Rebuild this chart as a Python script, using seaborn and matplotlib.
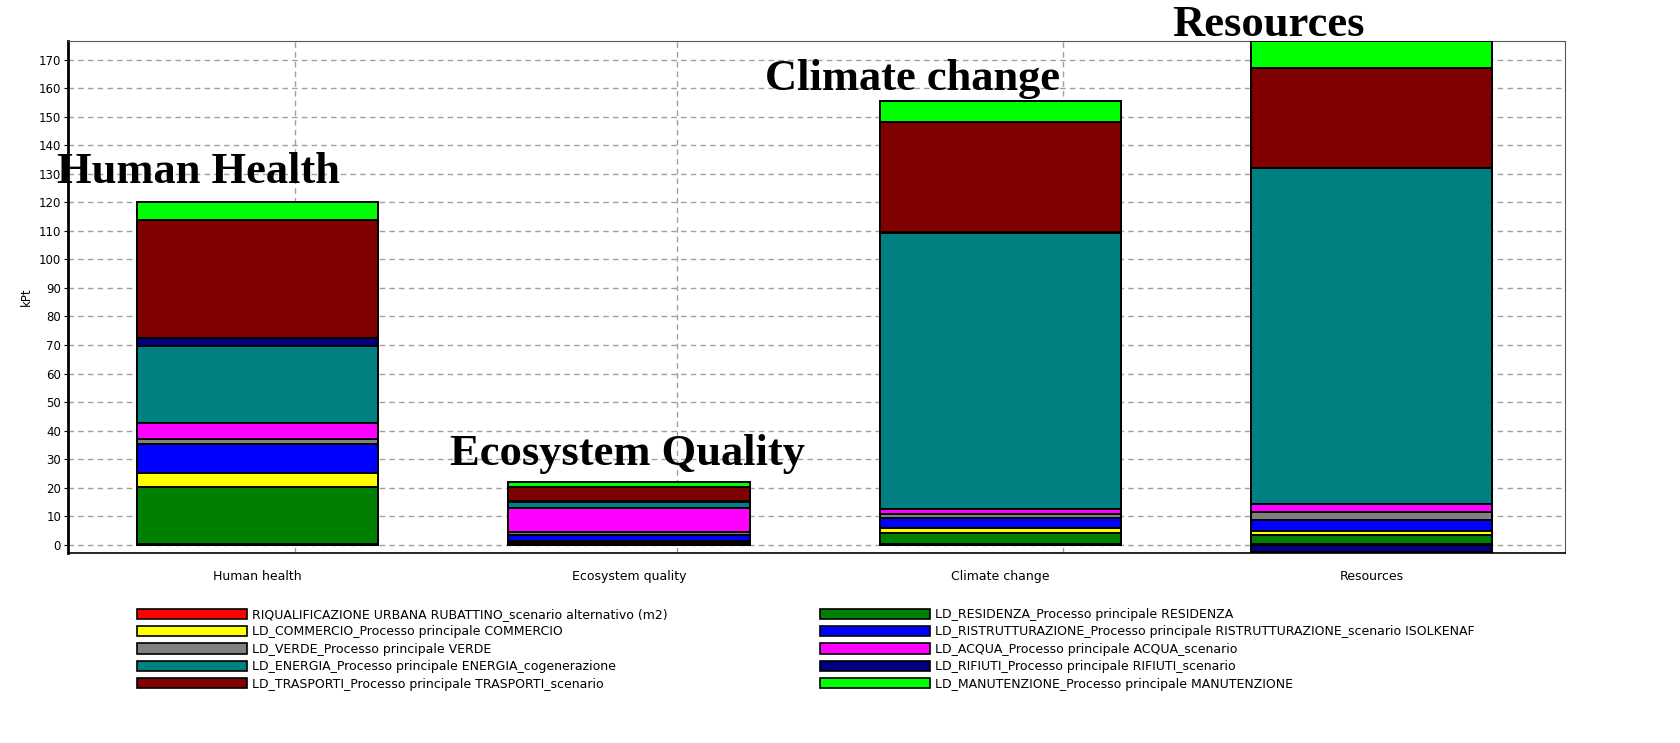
import numpy as np
import pandas as pd
import matplotlib
matplotlib.use('Agg')
import matplotlib.pyplot as plt
import seaborn as sns
from matplotlib.patches import Patch

# Categorie di impatto e contributi (kPt)
categorie = ['Human health', 'Ecosystem quality', 'Climate change', 'Resources']
riqualificazione = [0.3, 0.2, 0.2, 0.3]
residenza = [19.8, 0.8, 4.0, 3.2]
commercio = [5.2, 0.3, 1.8, 1.2]
ristrutturazione = [9.9, 2.0, 3.2, 4.0]
verde = [1.9, 1.3, 1.4, 2.8]
acqua = [5.5, 8.3, 2.0, 2.7]
energia = [26.9, 2.0, 96.8, 117.8]
rifiuti = [2.8, 0.3, 0.3, -2.7]
trasporti = [41.5, 5.2, 38.3, 35.1]
manutenzione = [6.4, 1.7, 7.5, 9.3]

etichette = [
    'RIQUALIFICAZIONE URBANA RUBATTINO_scenario alternativo (m2)',
    'LD_RESIDENZA_Processo principale RESIDENZA',
    'LD_COMMERCIO_Processo principale COMMERCIO',
    'LD_RISTRUTTURAZIONE_Processo principale RISTRUTTURAZIONE_scenario ISOLKENAF',
    'LD_VERDE_Processo principale VERDE',
    'LD_ACQUA_Processo principale ACQUA_scenario',
    'LD_ENERGIA_Processo principale ENERGIA_cogenerazione',
    'LD_RIFIUTI_Processo principale RIFIUTI_scenario',
    'LD_TRASPORTI_Processo principale TRASPORTI_scenario',
    'LD_MANUTENZIONE_Processo principale MANUTENZIONE',
]
colori = ['#FF0000', '#008000', '#FFFF00', '#0000FF', '#808080',
          '#FF00FF', '#008080', '#000080', '#800000', '#00FF00']

titoli = ['Human Health', 'Ecosystem Quality', 'Climate change', 'Resources']

df = pd.DataFrame(dict(zip(etichette, [riqualificazione, residenza, commercio, ristrutturazione,
                                       verde, acqua, energia, rifiuti, trasporti, manutenzione])),
                  index=categorie)
pos = df.clip(lower=0).cumsum(axis=1)
neg = df.clip(upper=0).cumsum(axis=1)

fig = plt.figure(figsize=(16.8, 7.43), dpi=100)
ax = fig.add_axes([0.0405, 0.2557, 0.891, 0.6891])

# Barre impilate: si disegnano le somme cumulative dall'alto verso il basso
for col, c in reversed(list(zip(etichette, colori))):
    sns.barplot(x=categorie, y=pos[col].values, color=c, saturation=1, width=0.65,
                edgecolor='black', linewidth=1.4, ax=ax, zorder=3)
for col, c in reversed(list(zip(etichette, colori))):
    if (df[col] < 0).any():
        sns.barplot(x=categorie, y=neg[col].values, color=c, saturation=1, width=0.65,
                    edgecolor='black', linewidth=1.4, ax=ax, zorder=3)

ax.set_xlim(-0.51, 3.52)
ax.set_ylim(-2.9, 176.5)
ax.set_yticks(np.arange(0, 171, 10))
ax.set_xticks([0.1, 1.13, 2.17, 3.2], minor=True)
ax.grid(True, axis='y', which='major', color='#a0a0a0', linestyle=(0, (4, 3)), linewidth=1, zorder=0)
ax.grid(True, axis='x', which='minor', color='#a0a0a0', linestyle=(0, (4, 3)), linewidth=1, zorder=0)
ax.set_axisbelow(True)
ax.tick_params(axis='x', which='both', length=0, labelsize=9, pad=12)
ax.tick_params(axis='y', length=3, labelsize=8.5, pad=2)
ax.set_ylabel('kPt', fontsize=8.5)
ax.set_xlabel('')
for s in ['top', 'right']:
    ax.spines[s].set_color('#555555')
ax.spines['left'].set_linewidth(2)
ax.spines['bottom'].set_linewidth(1.2)

# Titoli grandi sopra le barre
pos_titoli = [(57, 183), (450, 465), (765, 90), (1172, 36)]
for t, (px, py) in zip(titoli, pos_titoli):
    fig.text(px / 1680, 1 - py / 743, t, fontsize=32, fontweight='bold',
             family='Liberation Serif', ha='left', va='baseline', zorder=10)

# Legenda su due colonne (lettura per righe)
handles = [Patch(facecolor=c, edgecolor='black', linewidth=1.2) for c in colori]
ordine = [0, 2, 4, 6, 8, 1, 3, 5, 7, 9]
fig.legend([handles[i] for i in ordine], [etichette[i] for i in ordine], ncol=2,
           loc='upper left', bbox_to_anchor=(0.078, 0.19), frameon=False, fontsize=9,
           handlelength=8.8, handleheight=0.9, handletextpad=0.4, labelspacing=0.35,
           columnspacing=12.2, borderpad=0)

fig.savefig('out.png', dpi=100)
